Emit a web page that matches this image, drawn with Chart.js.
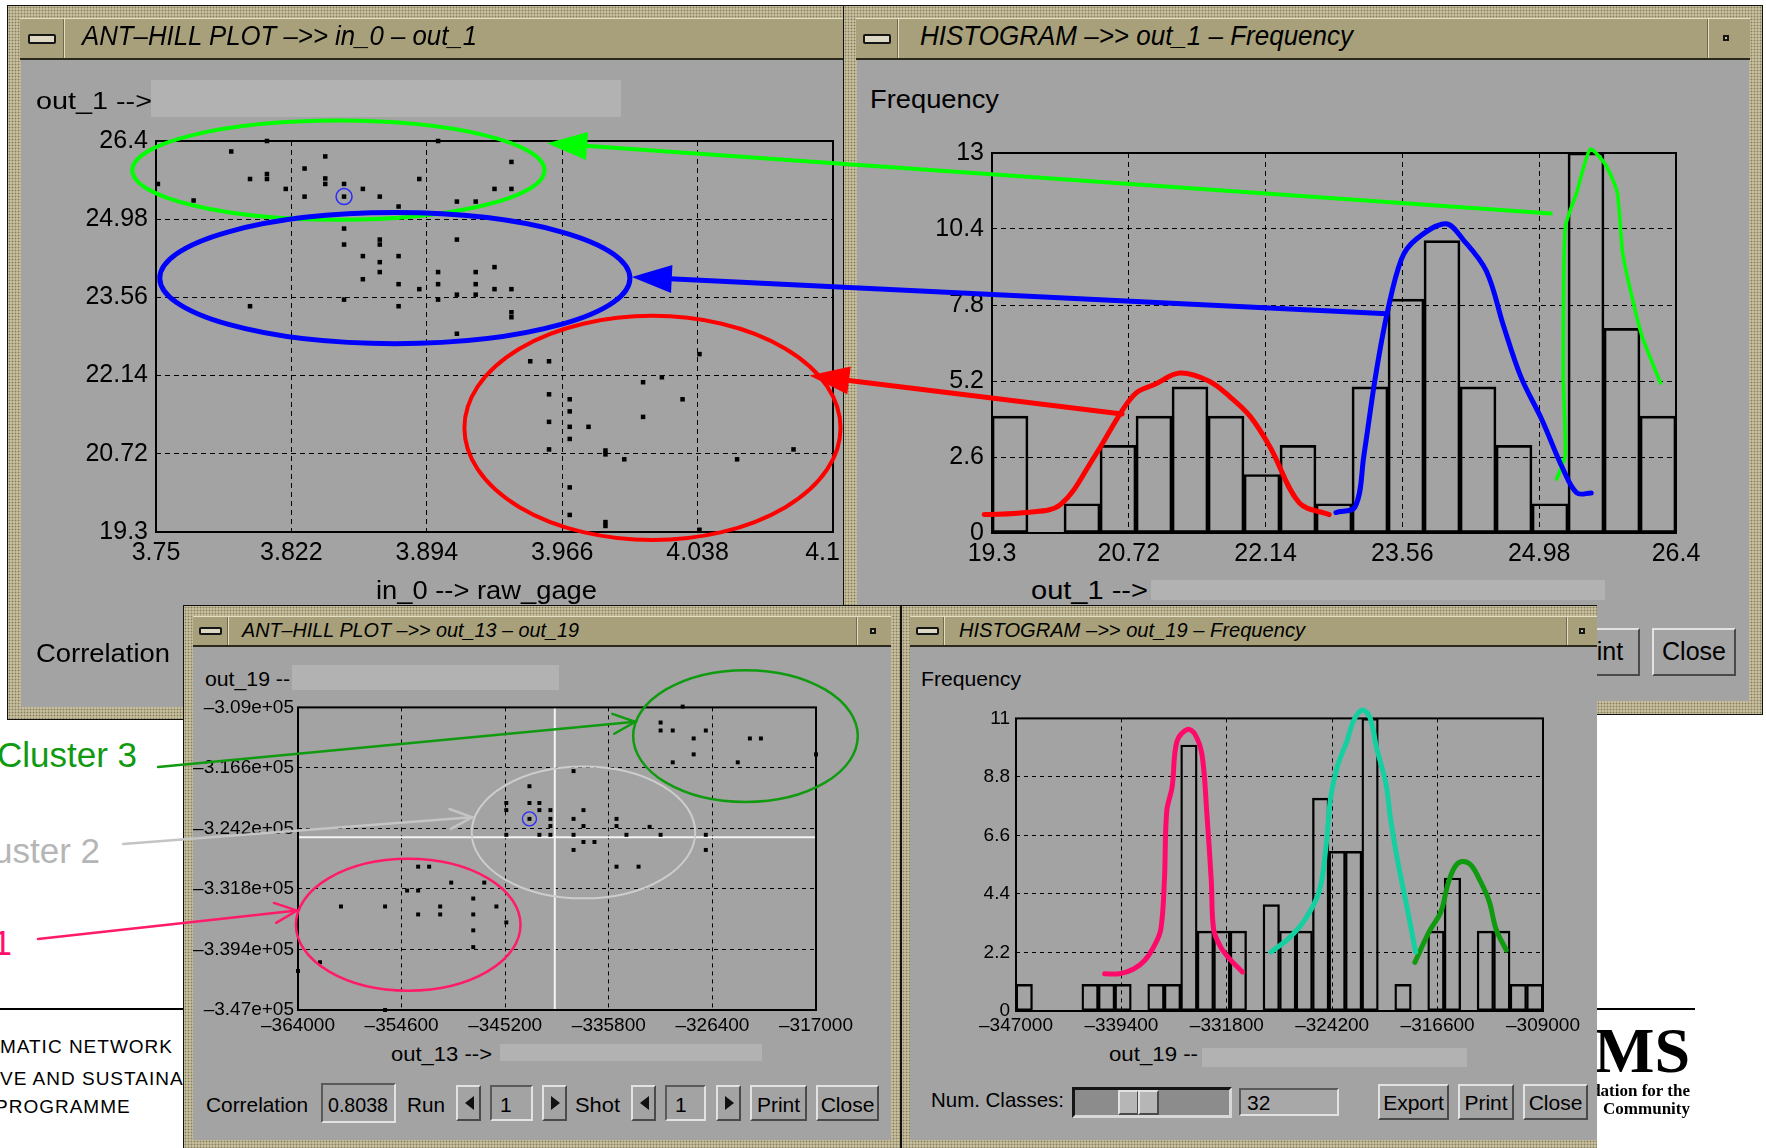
<!DOCTYPE html>
<html>
<head>
<meta charset="utf-8">
<title>Ant-hill plots and histograms</title>
<script src="https://cdn.jsdelivr.net/npm/chart.js@4.4.1/dist/chart.umd.min.js"></script>
<style>
  html, body { margin:0; padding:0; background:#fff; }
  #page { position:relative; width:1766px; height:1148px; overflow:hidden; background:#fff;
          font-family:"Liberation Sans", Arial, sans-serif; }
  .win { position:absolute; box-sizing:border-box; border:1px solid #111; overflow:hidden;
         background-color:#b8b08c;
         background-image: radial-gradient(circle, rgba(70,62,38,.45) 0.7px, rgba(0,0,0,0) 1.1px),
                           radial-gradient(circle, rgba(245,240,215,.55) 0.7px, rgba(0,0,0,0) 1.1px);
         background-size:3px 3px, 3px 3px; background-position:0 0, 1.5px 1.5px; }
  .bar  { box-sizing:border-box; background:#a8a07a; border-top:1px solid #e4dec0; border-bottom:2px solid #2b281c; }
  .sep  { background:linear-gradient(to right, #6f6a50 0 1px, #e4dec0 1px 2px); }
  .body { background:#a3a3a3; }
  .field{ background:#b2b2b2; }
  .btn  { box-sizing:border-box; background:#a3a3a3; border:2px solid; border-color:#e2e2e2 #4a4a4a #4a4a4a #e2e2e2; }
  .sunk { box-sizing:border-box; background:#a3a3a3; border:2px solid; border-color:#5a5a5a #e2e2e2 #e2e2e2 #5a5a5a; }
  .t    { position:absolute; white-space:nowrap; line-height:1; transform-origin:0 0; }
  canvas{ position:absolute; }
  #overlay { position:absolute; left:0; top:0; z-index:20; pointer-events:none; }
</style>
</head>
<body>
<div id="page"></div>
<script>
// ---------------- data ----------------
// Ant-hill plot 1: in_0 (raw_gage) against out_1
const antHill1X = [3.809,3.900,3.790,3.840,3.829,3.939,3.800,3.809,3.809,3.840,3.840,3.850,3.751,3.819,3.860,3.890,3.829,3.850,3.869,3.770,3.879,3.910,3.920,3.930,3.939,
                   3.850,3.910,3.850,3.869,3.869,3.860,3.879,3.869,3.869,3.860,3.900,3.920,3.930,3.879,3.890,3.900,3.920,3.930,3.939,3.910,3.920,3.850,3.900,3.800,3.879,3.939,3.939,3.910,
                   3.949,3.959,4.039,4.009,4.019,3.959,3.970,3.970,4.030,3.959,3.970,3.980,4.009,3.970,3.959,3.989,3.989,3.999,4.059,4.089,3.970,3.970,3.989,3.989,4.039];
const antHill1Y = [26.40,26.40,26.21,26.12,25.90,26.02,25.71,25.80,25.71,25.72,25.62,25.62,25.62,25.53,25.53,25.71,25.39,25.39,25.39,25.32,25.21,25.30,25.30,25.53,25.53,
                   24.81,24.61,24.52,24.61,24.52,24.31,24.31,24.20,24.02,23.89,24.02,24.02,24.11,23.80,23.71,23.80,23.80,23.71,23.71,23.61,23.61,23.52,23.52,23.40,23.40,23.29,23.20,22.90,
                   22.40,22.40,22.53,22.02,22.11,21.80,21.71,21.49,21.71,21.30,21.21,21.21,21.39,20.99,20.80,20.78,20.71,20.62,20.62,20.80,20.11,19.61,19.48,19.41,19.34];
const antHill1Selected = [3.850, 25.39];
const in0Ticks  = [3.75, 3.822, 3.894, 3.966, 4.038, 4.11];
const in0Labels = ['3.75', '3.822', '3.894', '3.966', '4.038', '4.1   '];
const out1Ticks  = [19.3, 20.72, 22.14, 23.56, 24.98, 26.4];
const out1Labels = ['19.3', '20.72', '22.14', '23.56', '24.98', '26.4'];

// Histogram of out_1 (19 classes)
const out1Range  = [19.3, 26.4];
const out1Counts = [4, 0, 1, 3, 4, 5, 4, 2, 3, 1, 5, 8, 10, 5, 3, 1, 13, 7, 4];
const freq1Ticks  = [0, 2.6, 5.2, 7.8, 10.4, 13];
const freq1Labels = ['0', '2.6', '5.2', '7.8', '10.4', '13'];
// hand-drawn cluster envelopes over the out_1 histogram
const out1RedX   = [19.22,19.65,20.01,20.37,20.64,20.80,20.98,21.25,21.55,21.77,21.98,22.19,22.49,22.80];
const out1RedY   = [0.63,0.70,0.97,2.65,4.13,4.80,5.07,5.47,5.20,4.66,3.99,2.92,1.03,0.63];
const out1BlueX  = [22.87,23.07,23.16,23.28,23.40,23.55,23.70,24.01,24.19,24.43,24.61,24.79,25.01,25.22,25.37,25.52];
const out1BlueY  = [0.70,0.90,2.65,5.34,7.49,9.37,10.04,10.58,10.04,8.97,7.08,5.34,3.86,2.24,1.37,1.37];
const out1GreenX = [25.16,25.25,25.23,25.25,25.37,25.51,25.67,25.79,25.85,26.04,26.24];
const out1GreenY = [1.84,2.65,5.34,10.44,11.65,13.13,12.59,11.65,9.50,6.81,5.13];

// Ant-hill plot 2: out_13 against out_19
const antHill2X = [-329100,-331100,-331100,-330000,-327000,-328100,-323000,-322000,-328100,-317000,-330000,-324100,
                   -339000,-343000,-345100,-343000,-342100,-345100,-342100,-341100,-338100,-343000,-341100,-339000,-335100,-341100,-338100,-335100,-332100,
                   -345100,-342100,-341100,-339000,-334200,-331100,-327000,-338100,-337100,-339000,-327000,-335100,-333100,
                   -353100,-352100,-350100,-347100,-354100,-353100,-348100,-360100,-356100,-351100,-346000,-353100,-351100,-348100,-345100,-348100,-348100,-362000,-364000,-356100];
const antHill2Y = [-308900,-310900,-311900,-311900,-311900,-312900,-312900,-312900,-314900,-314900,-315900,-315900,
                   -317000,-318900,-321000,-321000,-321000,-321900,-321900,-321900,-321900,-323000,-323000,-323000,-323000,-323900,-323900,-323900,-324000,
                   -325000,-325000,-325000,-325000,-325000,-325000,-325000,-325900,-325900,-326900,-326900,-329000,-329000,
                   -329000,-329000,-331000,-331000,-332000,-332000,-333000,-334000,-334000,-334000,-334000,-335000,-335000,-335000,-336000,-337000,-339100,-341000,-342100,-347000];
const antHill2Selected = [-343000, -323000];
const antHill2Cross    = [-340700, -325300];
const out13Ticks  = [-364000, -354600, -345200, -335800, -326400, -317000];
const out13Labels = ['–364000', '–354600', '–345200', '–335800', '–326400', '–317000'];
const out19YTicks  = [-347000, -339400, -331800, -324200, -316600, -309000];
const out19YLabels = ['–3.47e+05', '–3.394e+05', '–3.318e+05', '–3.242e+05', '–3.166e+05', '–3.09e+05'];

// Histogram of out_19 (32 classes)
const out19Range  = [-347000, -309000];
const out19Counts = [1,0,0,0,1,1,1,0,1,1,10,3,3,3,0,4,3,3,8,6,6,11,0,1,0,3,5,0,3,3,1,1];
const out19Labels = ['–347000', '–339400', '–331800', '–324200', '–316600', '–309000'];
const freq2Ticks  = [0, 2.2, 4.4, 6.6, 8.8, 11];
const freq2Labels = ['0', '2.2', '4.4', '6.6', '8.8', '11'];
// hand-drawn cluster envelopes over the out_19 histogram
const out19PinkX  = [-340610,-339550,-338550,-337720,-337060,-336560,-336300,-336130,-335740,-335400,-334640,-334080,-333580,-333250,-332920,-332750,-332260,-331600,-330670];
const out19PinkY  = [1.40,1.40,1.57,1.90,2.42,3.07,4.90,7.52,8.43,10.13,10.59,10.39,9.61,7.52,4.90,3.07,2.42,1.96,1.47];
const out19TealX  = [-328610,-327290,-326130,-325130,-324640,-324310,-323810,-323150,-322650,-322050,-321490,-320990,-320330,-320000,-319500,-318840,-318180];
const out19TealY  = [2.22,2.75,3.46,4.51,6.21,8.04,9.22,10.13,10.92,11.31,11.05,9.87,8.56,7.25,5.69,3.99,2.22];
const out19GreenX = [-318240,-317180,-316360,-315860,-315360,-314860,-314200,-313540,-312880,-312380,-311650];
const out19GreenY = [1.83,3.01,3.73,4.77,5.42,5.62,5.49,4.90,4.12,3.07,2.29];

// ---------------- page building helpers ----------------
const FONT = '"Liberation Sans", Arial, sans-serif';
const SERIF = '"Liberation Serif", "Times New Roman", serif';
const page = document.getElementById('page');
const fits = [];
const slide = { el: page, ox: 0, oy: 0 };

function makeWin(x, y, w, h, z, css) {
  const d = document.createElement('div');
  d.className = 'win';
  d.style.cssText = `left:${x}px;top:${y}px;width:${w}px;height:${h}px;z-index:${z};${css || ''}`;
  page.appendChild(d);
  return { el: d, ox: x + 1, oy: y + 1 };
}

function box(w, cls, x1, y1, x2, y2, css) {
  const d = document.createElement('div');
  if (cls) d.className = cls;
  d.style.cssText += `position:absolute;left:${x1 - w.ox}px;top:${y1 - w.oy}px;width:${x2 - x1}px;height:${y2 - y1}px;${css || ''}`;
  w.el.appendChild(d);
  return d;
}

function text(w, s, x, base, size, o = {}) {
  const d = document.createElement('div');
  d.className = 't';
  d.textContent = s;
  d.style.left = (x - w.ox) + 'px';
  d.style.top = (base - 0.85 * size - w.oy) + 'px';
  d.style.fontSize = size + 'px';
  d.style.fontFamily = o.family || FONT;
  if (o.italic) d.style.fontStyle = 'italic';
  if (o.bold) d.style.fontWeight = 'bold';
  d.style.color = o.color || '#000';
  if (o.ls) d.style.letterSpacing = o.ls + 'px';
  if (o.css) d.style.cssText += o.css;
  w.el.appendChild(d);
  fits.push({ d, w, x, o });
  return d;
}

function applyFits() {
  for (const f of fits) {
    const nat = f.d.getBoundingClientRect().width;
    const sx = f.o.w ? f.o.w / nat : 1;
    const vis = nat * sx;
    let left = f.x;
    if (f.o.align === 'right') left = f.x - vis;
    else if (f.o.align === 'center') left = f.x - vis / 2;
    if (f.o.hidePrefix) {
      const m = document.createElement('span');
      m.style.cssText = `position:absolute;visibility:hidden;white-space:nowrap;font-size:${f.d.style.fontSize};font-family:${f.d.style.fontFamily};letter-spacing:${f.d.style.letterSpacing || 'normal'}`;
      m.textContent = f.o.hidePrefix;
      page.appendChild(m);
      left = f.x - m.getBoundingClientRect().width;
      m.remove();
    }
    f.d.style.left = (left - f.w.ox) + 'px';
    if (sx !== 1) f.d.style.transform = `scaleX(${sx})`;
  }
}

// title bar with the minimise button and optional right-hand button
function titleBar(w, x1, x2, y1, y2, o) {
  box(w, 'bar', x1, y1, x2, y2);
  box(w, 'sep', x1 + o.min, y1 + 1, x1 + o.min + 2, y2 - 2);
  box(w, null, o.icon[0], o.icon[1], o.icon[2], o.icon[3],
      'box-sizing:border-box;border:2px solid #151515;background:#dcd8c4;border-radius:2px;');
  if (o.right) {
    box(w, 'sep', o.right, y1 + 1, o.right + 2, y2 - 2);
    box(w, null, o.dot[0], o.dot[1], o.dot[0] + 6, o.dot[1] + 6,
        'box-sizing:border-box;border:2px solid #151515;background:#c8c2a4;');
  }
  text(w, o.title, o.tx, o.tb, o.ts, { italic: true, w: o.tw });
}

function button(w, x1, y1, x2, y2, label, size, base) {
  box(w, 'btn', x1, y1, x2, y2);
  if (label) text(w, label, (x1 + x2) / 2, base, size, { align: 'center' });
}

function arrowButton(w, x1, y1, x2, y2, dir) {
  box(w, 'btn', x1, y1, x2, y2);
  const cx = (x1 + x2) / 2, cy = (y1 + y2) / 2;
  const tri = dir < 0
    ? 'border-top:7px solid transparent;border-bottom:7px solid transparent;border-right:9px solid #111;'
    : 'border-top:7px solid transparent;border-bottom:7px solid transparent;border-left:9px solid #111;';
  box(w, null, cx - 4, cy - 7, cx - 4, cy - 7, 'width:0;height:0;' + tri);
}

// ---------------- background slide ----------------
text(slide, 'Cluster 3', 137, 767, 35, { align: 'right', color: '#109a10' });
text(slide, 'Cluster 2', 100, 863, 35, { align: 'right', color: '#b5b5b5' });
text(slide, 'Cluster 1', 12, 955, 35, { align: 'right', color: '#ff0f6b' });
box(slide, null, 0, 1008, 184, 1010, 'background:#000;');
box(slide, null, 1597, 1008, 1695, 1010, 'background:#000;');
text(slide, 'THEMATIC NETWORK', 173, 1053, 19, { align: 'right', ls: 1 });
text(slide, 'COMPETITIVE AND SUSTAINABLE GROWTH', 0, 1085, 19, { ls: 1, hidePrefix: 'COMPETITI' });
text(slide, 'PROGRAMME', -5, 1113, 19, { ls: 1 });
text(slide, 'MS', 1690, 1073, 64, { align: 'right', family: SERIF, bold: true, css: 'filter:blur(0.6px);' });
text(slide, 'Foundation for the', 1690, 1096, 17, { align: 'right', family: SERIF, bold: true, css: 'filter:blur(0.6px);' });
text(slide, 'Community', 1690, 1114, 17, { align: 'right', family: SERIF, bold: true, css: 'filter:blur(0.6px);' });

// ---------------- windows ----------------
const w1 = makeWin(7, 5, 846, 715, 1);
box(w1, 'body', 21, 60, 852, 707);
titleBar(w1, 20, 852, 18, 60, { min: 43, icon: [28, 34, 56, 44], title: 'ANT–HILL PLOT –>> in_0 – out_1', tx: 82, tb: 46, ts: 28, tw: 395 });
text(w1, 'out_1 -->', 36, 110, 23, { w: 116 });
box(w1, 'field', 151, 80, 621, 117);
text(w1, 'in_0 --> raw_gage', 486, 599, 25, { align: 'center', w: 221 });
text(w1, 'Correlation', 36, 662, 26, { w: 134 });

const w2 = makeWin(843, 5, 920, 710, 2);
box(w2, 'body', 857, 60, 1749, 701);
titleBar(w2, 856, 1750, 18, 60, { min: 41, icon: [863, 34, 891, 44], right: 1707, dot: [1723, 35], title: 'HISTOGRAM –>> out_1 – Frequency', tx: 920, tb: 46, ts: 28, tw: 433 });
text(w2, 'Frequency', 870, 108, 25, { w: 129 });
text(w2, 'out_1 -->', 1031, 599, 25, { w: 117 });
box(w2, 'field', 1151, 580, 1605, 600);
button(w2, 1555, 628, 1640, 676, 'Print', 25, 660);
button(w2, 1652, 628, 1736, 676, 'Close', 25, 660);

const w3 = makeWin(183, 605, 718, 560, 3);
box(w3, 'body', 193, 647, 891, 1140);
titleBar(w3, 193, 891, 616, 647, { min: 34, icon: [199, 627, 222, 635], right: 856, dot: [870, 628], title: 'ANT–HILL PLOT –>> out_13 – out_19', tx: 242, tb: 637, ts: 21, tw: 337 });
text(w3, 'out_19 --', 205, 686, 20, { w: 85 });
box(w3, 'field', 292, 665, 559, 690);
text(w3, 'out_13 -->', 391, 1061, 20, { w: 101 });
box(w3, 'field', 500, 1044, 762, 1061);
text(w3, 'Correlation', 206, 1112, 21, { w: 102 });
box(w3, 'sunk', 321, 1083, 396, 1123);
text(w3, '0.8038', 358, 1112, 20, { align: 'center', w: 60 });
text(w3, 'Run', 407, 1112, 21, { w: 38 });
arrowButton(w3, 456, 1085, 481, 1121, -1);
box(w3, 'sunk', 490, 1085, 533, 1121);
text(w3, '1', 500, 1112, 21);
arrowButton(w3, 542, 1085, 567, 1121, 1);
text(w3, 'Shot', 575, 1112, 21, { w: 45 });
arrowButton(w3, 631, 1085, 656, 1121, -1);
box(w3, 'sunk', 665, 1085, 706, 1121);
text(w3, '1', 675, 1112, 21);
arrowButton(w3, 716, 1085, 741, 1121, 1);
button(w3, 750, 1085, 807, 1121, 'Print', 21, 1112);
button(w3, 816, 1085, 879, 1121, 'Close', 21, 1112);

const w4 = makeWin(901, 605, 696, 560, 4, 'border-right:none;');
box(w4, 'body', 910, 647, 1597, 1140);
titleBar(w4, 910, 1597, 616, 647, { min: 33, icon: [916, 627, 939, 635], right: 1566, dot: [1579, 628], title: 'HISTOGRAM –>> out_19 – Frequency', tx: 959, tb: 637, ts: 21, tw: 346 });
text(w4, 'Frequency', 921, 686, 21, { w: 100 });
text(w4, 'out_19 --', 1109, 1061, 20, { w: 89 });
box(w4, 'field', 1202, 1048, 1467, 1067);
text(w4, 'Num. Classes:', 931, 1107, 21, { w: 133 });
box(w4, null, 1072, 1087, 1232, 1118, 'box-sizing:border-box;border:3px solid;border-color:#151515 #d8d8d8 #d8d8d8 #151515;background:#8c8c8c;');
box(w4, 'btn', 1118, 1090, 1139, 1115, 'background:#b6b6b6;');
box(w4, 'btn', 1138, 1090, 1159, 1115, 'background:#b6b6b6;');
box(w4, 'sunk', 1239, 1088, 1339, 1116, 'background:#a8a8a8;');
text(w4, '32', 1247, 1110, 21);
button(w4, 1378, 1084, 1449, 1120, 'Export', 21, 1110);
button(w4, 1458, 1084, 1514, 1120, 'Print', 21, 1110);
button(w4, 1523, 1084, 1588, 1120, 'Close', 21, 1110);

// ---------------- charts ----------------
Chart.defaults.font.family = 'Liberation Sans';
Chart.defaults.color = '#000';

const framePlugin = {
  id: 'frame',
  beforeDatasetsDraw(chart) {
    const { ctx, chartArea: a } = chart;
    const cross = chart.options.plugins.frame && chart.options.plugins.frame.cross;
    ctx.save();
    if (cross) {
      ctx.strokeStyle = '#f4f4f4';
      ctx.lineWidth = 2;
      const px = chart.scales.x.getPixelForValue(cross[0]);
      const py = chart.scales.y.getPixelForValue(cross[1]);
      ctx.beginPath();
      ctx.moveTo(px, a.top); ctx.lineTo(px, a.bottom);
      ctx.moveTo(a.left, py); ctx.lineTo(a.right, py);
      ctx.stroke();
    }
    ctx.strokeStyle = '#000';
    ctx.lineWidth = 2;
    ctx.strokeRect(a.left, a.top, a.right - a.left, a.bottom - a.top);
    ctx.restore();
  }
};

function axis(range, ticks, labels, size, pad, fixed, horizontal, dash) {
  return {
    type: 'linear', min: range[0], max: range[1], offset: false,
    afterBuildTicks: s => { s.ticks = ticks.map(v => ({ value: v })); },
    afterFit: s => { if (horizontal) s.height = fixed; else s.width = fixed; },
    ticks: {
      autoSkip: false, maxRotation: 0, minRotation: 0, padding: pad, color: '#000',
      font: { size, family: 'Liberation Sans' },
      callback: (v, i) => labels[i]
    },
    grid: {
      drawTicks: false, lineWidth: 1, offset: false,
      color: c => (c.index > 0 && c.index < ticks.length - 1) ? '#000' : 'rgba(0,0,0,0)'
    },
    border: { display: false, dash: dash }
  };
}

function makeCanvas(w, x, y, width, height) {
  const c = document.createElement('canvas');
  c.width = width; c.height = height;
  c.style.left = (x - w.ox) + 'px';
  c.style.top = (y - w.oy) + 'px';
  c.style.width = width + 'px';
  c.style.height = height + 'px';
  w.el.appendChild(c);
  return c;
}

function baseOptions(pad, scales, extra) {
  return Object.assign({
    responsive: false, animation: false, devicePixelRatio: 1, events: [],
    layout: { padding: pad },
    plugins: { legend: { display: false }, tooltip: { enabled: false } },
    scales
  }, extra || {});
}

const zip = (xs, ys) => xs.map((x, i) => ({ x, y: ys[i] }));
const bins = (range, counts) => counts.map((c, i) => ({
  x: range[0] + (i + 0.5) * (range[1] - range[0]) / counts.length, y: c
}));
const curve = (xs, ys, color, width, tension) => ({
  type: 'line', data: zip(xs, ys), borderColor: color, borderWidth: width, pointRadius: 0,
  tension: tension, clip: false, order: 0, borderCapStyle: 'round', borderJoinStyle: 'round', fill: false
});
const histBars = (range, counts, bw) => ({
  type: 'bar', data: bins(range, counts), backgroundColor: 'rgba(0,0,0,0)', borderColor: '#000',
  borderWidth: bw, borderSkipped: false, barPercentage: 1, categoryPercentage: 1, order: 5
});

// Chart A: ant-hill plot in_0 / out_1
const gA = { x: 76, y: 118 };
const chartA = new Chart(makeCanvas(w1, gA.x, gA.y, 802, 459), {
  type: 'scatter',
  data: { datasets: [
    { data: zip(antHill1X, antHill1Y), pointStyle: 'rect', pointRadius: 3.2, backgroundColor: '#000', borderWidth: 0, clip: false },
    { data: [{ x: antHill1Selected[0], y: antHill1Selected[1] }], pointStyle: 'circle', pointRadius: 8,
      backgroundColor: 'rgba(0,0,0,0)', borderColor: '#2a2aff', borderWidth: 1.5, clip: false }
  ] },
  options: baseOptions({ top: 20, right: 45, left: 0, bottom: 0 }, {
    x: axis([3.75, 4.11], in0Ticks, in0Labels, 25, 6, 45, true, [5, 4]),
    y: axis([19.3, 26.4], out1Ticks, out1Labels, 25, 8, 80, false, [5, 4])
  }),
  plugins: [framePlugin]
});
gA.chart = chartA;

// Chart B: histogram of out_1
const gB = { x: 912, y: 130 };
const chartB = new Chart(makeCanvas(w2, gB.x, gB.y, 804, 448), {
  type: 'bar',
  data: { datasets: [
    curve(out1RedX, out1RedY, '#ff0000', 5, 0.35),
    curve(out1BlueX, out1BlueY, '#0000ff', 5, 0.35),
    curve(out1GreenX, out1GreenY, '#00ff00', 3.5, 0.2),
    histBars(out1Range, out1Counts, 2)
  ] },
  options: baseOptions({ top: 20, right: 40, left: 0, bottom: 0 }, {
    x: axis(out1Range, out1Ticks, out1Labels, 25, 6, 45, true, [5, 4]),
    y: axis([0, 13], freq1Ticks, freq1Labels, 25, 8, 80, false, [5, 4])
  }),
  plugins: [framePlugin]
});
gB.chart = chartB;

// Chart C: ant-hill plot out_13 / out_19
const gC = { x: 188, y: 692 };
const chartC = new Chart(makeCanvas(w3, gC.x, gC.y, 669, 358), {
  type: 'scatter',
  data: { datasets: [
    { data: zip(antHill2X, antHill2Y), pointStyle: 'rect', pointRadius: 2.8, backgroundColor: '#000', borderWidth: 0, clip: false },
    { data: [{ x: antHill2Selected[0], y: antHill2Selected[1] }], pointStyle: 'circle', pointRadius: 7,
      backgroundColor: 'rgba(0,0,0,0)', borderColor: '#2a2aff', borderWidth: 1.3, clip: false }
  ] },
  options: baseOptions({ top: 15, right: 40, left: 0, bottom: 0 }, {
    x: axis([-364000, -317000], out13Ticks, out13Labels, 19, 4, 40, true, [4, 4]),
    y: axis([-347000, -309000], out19YTicks, out19YLabels, 19, 4, 110, false, [4, 4])
  }, { plugins: { legend: { display: false }, tooltip: { enabled: false }, frame: { cross: antHill2Cross } } }),
  plugins: [framePlugin]
});
gC.chart = chartC;

// Chart D: histogram of out_19
const gD = { x: 926, y: 701 };
const chartD = new Chart(makeCanvas(w4, gD.x, gD.y, 657, 350), {
  type: 'bar',
  data: { datasets: [
    curve(out19PinkX, out19PinkY, '#ff0a6a', 5, 0.35),
    curve(out19TealX, out19TealY, '#14d0a0', 5, 0.35),
    curve(out19GreenX, out19GreenY, '#109a10', 5, 0.35),
    histBars(out19Range, out19Counts, 1.7)
  ] },
  options: baseOptions({ top: 15, right: 40, left: 0, bottom: 0 }, {
    x: axis(out19Range, out19YTicks, out19Labels, 19, 3, 40, true, [4, 4]),
    y: axis([0, 11], freq2Ticks, freq2Labels, 19, 6, 90, false, [4, 4])
  }),
  plugins: [framePlugin]
});
gD.chart = chartD;

// ---------------- cluster annotations ----------------
const ov = document.createElement('canvas');
ov.id = 'overlay';
ov.width = 1766; ov.height = 1148;
page.appendChild(ov);
const ctx = ov.getContext('2d');

function toPage(g, x, y) {
  return [g.x + g.chart.scales.x.getPixelForValue(x), g.y + g.chart.scales.y.getPixelForValue(y)];
}

function ring(g, r) {
  const [cx, cy] = toPage(g, r.cx, r.cy);
  const [ex] = toPage(g, r.cx + r.rx, r.cy);
  const [, ey] = toPage(g, r.cx, r.cy + r.ry);
  ctx.beginPath();
  ctx.ellipse(cx, cy, Math.abs(ex - cx), Math.abs(cy - ey), 0, 0, Math.PI * 2);
  ctx.strokeStyle = r.color; ctx.lineWidth = r.w; ctx.stroke();
}

function arrow(p0, p1, color, w, len, half, solid) {
  const dx = p1[0] - p0[0], dy = p1[1] - p0[1];
  const d = Math.hypot(dx, dy), ux = dx / d, uy = dy / d;
  const bx = p1[0] - ux * len, by = p1[1] - uy * len;
  ctx.strokeStyle = color; ctx.fillStyle = color; ctx.lineWidth = w; ctx.lineCap = 'round';
  ctx.beginPath();
  ctx.moveTo(p0[0], p0[1]);
  if (solid) ctx.lineTo(bx + ux * 2, by + uy * 2); else ctx.lineTo(p1[0], p1[1]);
  ctx.stroke();
  ctx.beginPath();
  ctx.moveTo(bx - uy * half, by + ux * half);
  ctx.lineTo(p1[0], p1[1]);
  ctx.lineTo(bx + uy * half, by - ux * half);
  if (solid) { ctx.closePath(); ctx.fill(); } else ctx.stroke();
}

// out_1 clusters, in data units of chart A
[
  { cx: 3.847, cy: 25.87, rx: 0.1096, ry: 0.90, color: '#00ff00', w: 4 },
  { cx: 3.877, cy: 23.91, rx: 0.125, ry: 1.19, color: '#0000ff', w: 5 },
  { cx: 4.014, cy: 21.19, rx: 0.100, ry: 2.035, color: '#ff0000', w: 4 }
].forEach(r => ring(gA, r));

// links from the histogram peaks (chart B) to the clusters (chart A)
[
  { from: [25.10, 10.93], to: [3.958, 26.36], color: '#00ff00', w: 4 },
  { from: [23.40, 7.50],  to: [4.003, 23.93], color: '#0000ff', w: 5 },
  { from: [20.65, 4.07],  to: [4.0974, 22.14], color: '#ff0000', w: 5 }
].forEach(a => arrow(toPage(gB, a.from[0], a.from[1]), toPage(gA, a.to[0], a.to[1]), a.color, a.w, 40, 14, true));

// out_19 clusters, in data units of chart C
[
  { cx: -323400, cy: -312600, rx: 10190, ry: 8280, color: '#109a10', w: 2.5 },
  { cx: -338100, cy: -324700, rx: 10140, ry: 8280, color: '#cdcdcd', w: 2 },
  { cx: -354000, cy: -336300, rx: 10190, ry: 8280, color: '#ff1a6a', w: 2.5 }
].forEach(r => ring(gC, r));

// pointers from the slide labels into chart C
[
  { from: [158, 767], to: [-333400, -310800], color: '#109a10' },
  { from: [123, 844], to: [-348200, -322800], color: '#c4c4c4' },
  { from: [38, 939],  to: [-364100, -334500], color: '#ff1a6a' }
].forEach(a => arrow(a.from, toPage(gC, a.to[0], a.to[1]), a.color, 2.5, 22, 10, false));

applyFits();
</script>
</body>
</html>
